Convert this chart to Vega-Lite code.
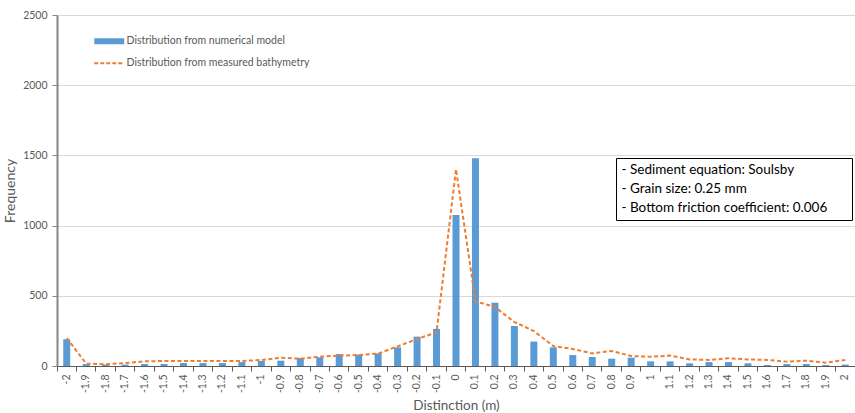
{
  "$schema": "https://vega.github.io/schema/vega-lite/v6.json",
  "autosize": {"type": "none"},
  "padding": {"left": 57, "top": 15, "right": 0, "bottom": 47},
  "width": 798,
  "height": 351,
  "background": "white",
  "config": {
    "view": {"stroke": null},
    "font": "Lato",
    "axis": {"labelFont": "Lato", "titleFont": "Lato", "labelColor": "#595959", "titleColor": "#595959", "titleFontWeight": "normal"}
  },
  "data": {
    "values": [
      {"x": "-2", "model": 190, "measured": 199},
      {"x": "-1.9", "model": 14, "measured": 17},
      {"x": "-1.8", "model": 10, "measured": 12},
      {"x": "-1.7", "model": 10, "measured": 21},
      {"x": "-1.6", "model": 14, "measured": 33},
      {"x": "-1.5", "model": 14, "measured": 36},
      {"x": "-1.4", "model": 21, "measured": 36},
      {"x": "-1.3", "model": 21, "measured": 36},
      {"x": "-1.2", "model": 21, "measured": 36},
      {"x": "-1.1", "model": 28, "measured": 36},
      {"x": "-1", "model": 36, "measured": 43},
      {"x": "-0.9", "model": 38, "measured": 59},
      {"x": "-0.8", "model": 57, "measured": 52},
      {"x": "-0.7", "model": 62, "measured": 66},
      {"x": "-0.6", "model": 85, "measured": 74},
      {"x": "-0.5", "model": 81, "measured": 78},
      {"x": "-0.4", "model": 90, "measured": 88},
      {"x": "-0.3", "model": 133, "measured": 140},
      {"x": "-0.2", "model": 209, "measured": 192},
      {"x": "-0.1", "model": 264, "measured": 240},
      {"x": "0", "model": 1075, "measured": 1401},
      {"x": "0.1", "model": 1479, "measured": 461},
      {"x": "0.2", "model": 451, "measured": 420},
      {"x": "0.3", "model": 285, "measured": 313},
      {"x": "0.4", "model": 174, "measured": 249},
      {"x": "0.5", "model": 133, "measured": 142},
      {"x": "0.6", "model": 78, "measured": 121},
      {"x": "0.7", "model": 64, "measured": 90},
      {"x": "0.8", "model": 52, "measured": 107},
      {"x": "0.9", "model": 59, "measured": 71},
      {"x": "1", "model": 33, "measured": 66},
      {"x": "1.1", "model": 33, "measured": 74},
      {"x": "1.2", "model": 19, "measured": 47},
      {"x": "1.3", "model": 28, "measured": 43},
      {"x": "1.4", "model": 28, "measured": 55},
      {"x": "1.5", "model": 19, "measured": 47},
      {"x": "1.6", "model": 7, "measured": 43},
      {"x": "1.7", "model": 14, "measured": 31},
      {"x": "1.8", "model": 14, "measured": 38},
      {"x": "1.9", "model": 7, "measured": 24},
      {"x": "2", "model": 10, "measured": 43}
    ]
  },
  "resolve": {"axis": {"x": "independent"}},
  "layer": [
    {
      "mark": {"type": "bar", "size": 7},
      "encoding": {
        "x": {
          "field": "x", "type": "ordinal", "sort": null,
          "scale": {"paddingInner": 0, "paddingOuter": 0},
          "axis": {"orient": "bottom", "title": null, "labels": false, "bandPosition": 0, "domainColor": "#595959", "domainWidth": 1, "tickColor": "#595959", "tickSize": 5}
        },
        "y": {
          "field": "model", "type": "quantitative",
          "scale": {"domain": [0, 2500], "nice": false},
          "axis": {"title": "Frequency", "titleFontSize": 14, "labelFontSize": 10.5, "format": "d", "values": [0, 500, 1000, 1500, 2000, 2500], "gridColor": "#D9D9D9", "domainColor": "#868686", "domainWidth": 2, "tickColor": "#868686", "tickSize": 5, "labelPadding": 5, "titlePadding": 5}
        },
        "color": {
          "datum": "Distribution from numerical model",
          "scale": {"domain": ["Distribution from numerical model", "Distribution from measured bathymetry"], "range": ["#5B9BD5", "#ED7D31"]},
          "legend": {
            "orient": "none", "legendX": 47, "legendY": 21, "title": null,
            "symbolSize": 900, "labelFont": "Lato", "labelFontSize": 10.5, "labelColor": "#595959", "rowPadding": 11, "labelOffset": 12, "labelLimit": 400,
            "encode": {
              "symbols": {
                "update": {
                  "shape": {"signal": "datum.value == 'Distribution from numerical model' ? 'M-1,-0.2H1V0.2H-1Z' : 'M-1,0H1'"},
                  "fill": {"signal": "datum.value == 'Distribution from numerical model' ? '#5B9BD5' : 'transparent'"},
                  "stroke": {"signal": "datum.value == 'Distribution from numerical model' ? '#5B9BD5' : '#ED7D31'"},
                  "strokeDash": {"signal": "datum.value == 'Distribution from numerical model' ? [1, 0] : [4, 2]"},
                  "strokeWidth": {"signal": "datum.value == 'Distribution from numerical model' ? 0 : 2"},
                  "opacity": {"value": 1}
                }
              }
            }
          }
        }
      }
    },
    {
      "mark": {"type": "line", "strokeWidth": 2, "strokeDash": [4, 2.5]},
      "encoding": {
        "x": {
          "field": "x", "type": "ordinal", "sort": null,
          "axis": {"orient": "bottom", "title": "Distinction (m)", "titleFontSize": 13.5, "labelFontSize": 10.5, "labelAngle": -90, "domain": false, "ticks": false, "labelPadding": 8, "titlePadding": 6}
        },
        "y": {"field": "measured", "type": "quantitative"},
        "color": {"datum": "Distribution from measured bathymetry"}
      }
    },
    {
      "data": {"values": [
        {"note": "- Sediment equation: Soulsby"},
        {"note": "- Grain size: 0.25 mm"},
        {"note": "- Bottom friction coefficient: 0.006"}
      ]},
      "mark": {"type": "point", "opacity": 0, "size": 0},
      "encoding": {
        "shape": {
          "field": "note", "type": "nominal", "sort": null,
          "legend": {
            "orient": "none", "legendX": 559, "legendY": 143, "title": null,
            "symbolSize": 0, "symbolOpacity": 0, "symbolStrokeWidth": 0, "labelOffset": -232, "symbolOffset": 219,
            "labelFont": "Lato", "labelFontSize": 13.5, "labelColor": "#000000",
            "rowPadding": 4, "padding": 5, "strokeColor": "#000000", "fillColor": "#FFFFFF", "labelLimit": 400,
            "encode": {"symbols": {"update": {"size": {"value": 0}}}}
          }
        }
      }
    }
  ]
}
